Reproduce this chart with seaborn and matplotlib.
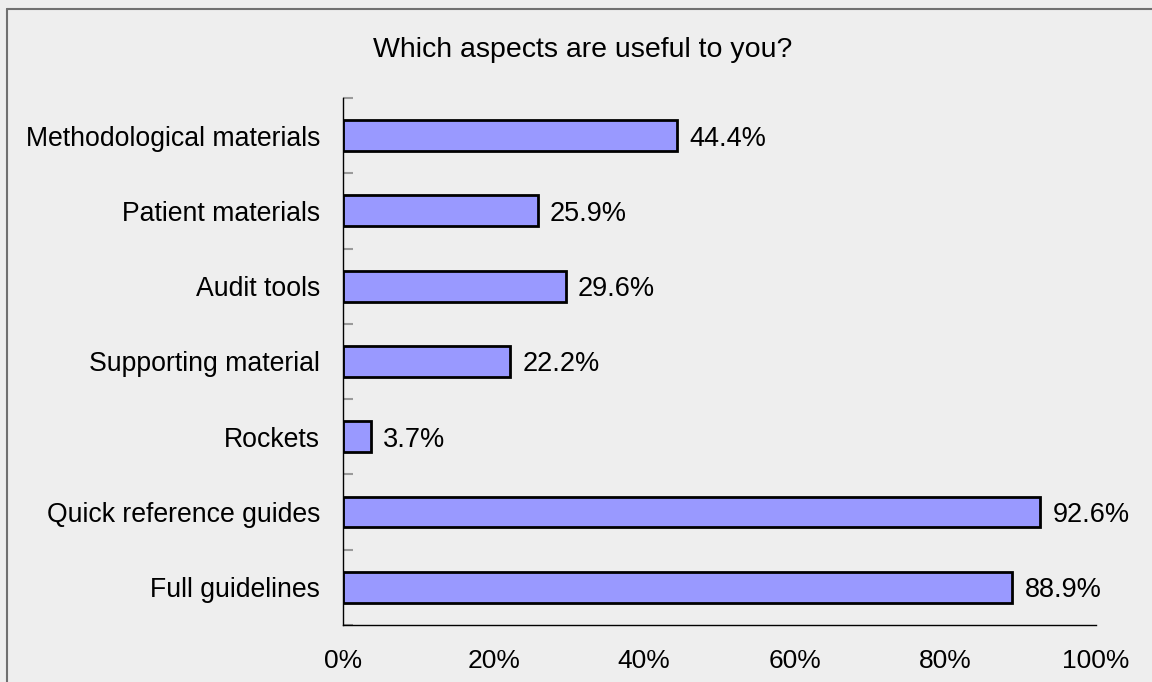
import matplotlib
matplotlib.use("Agg")
import matplotlib.pyplot as plt
import seaborn as sns
import pandas as pd
from matplotlib.ticker import FixedLocator
from matplotlib.lines import Line2D

categories = ["Methodological materials", "Patient materials", "Audit tools",
              "Supporting material", "Rockets", "Quick reference guides",
              "Full guidelines"]
shares = [44.4, 25.9, 29.6, 22.2, 3.7, 92.6, 88.9]
x_ticks = [0, 20, 40, 60, 80, 100]
x_tick_labels = ["0%", "20%", "40%", "60%", "80%", "100%"]
title = "Which aspects are useful to you?"

df = pd.DataFrame({"category": categories, "share": shares})

sns.set_style("white")
plt.rcParams["font.family"] = ["Liberation Sans", "DejaVu Sans"]
plt.rcParams["text.color"] = "black"
plt.rcParams["xtick.color"] = "black"
plt.rcParams["ytick.color"] = "black"
plt.rcParams["xtick.labelcolor"] = "black"
plt.rcParams["ytick.labelcolor"] = "black"

bg = "#EEEEEE"
fig = plt.figure(figsize=(11.52, 6.82), dpi=100, facecolor=bg)
ax = fig.add_axes([0.2977, 0.0836, 0.6537, 0.7727])
ax.set_facecolor(bg)

sns.barplot(data=df, x="share", y="category", orient="h", color="#9999FF",
            saturation=1, edgecolor="black", linewidth=2.0, width=0.41, ax=ax)

ax.set_xlim(0, 100)
ax.set_ylim(len(categories) - 0.5, -0.5)
ax.set_xlabel("")
ax.set_ylabel("")

for spine in ["top", "right"]:
    ax.spines[spine].set_visible(False)
for spine in ["left", "bottom"]:
    ax.spines[spine].set_color("black")
    ax.spines[spine].set_linewidth(1.0)

ax.set_xticks(x_ticks)
ax.set_xticklabels(x_tick_labels, fontsize=19, color="black")
ax.tick_params(axis="x", length=0, pad=17)
ax.tick_params(axis="y", which="major", length=0, pad=16.5, labelsize=19.2,
               labelcolor="black")
ax.yaxis.set_minor_locator(FixedLocator([i - 0.5 for i in range(len(categories) + 1)]))
ax.tick_params(axis="y", which="minor", direction="in", length=7,
               width=1.5, color="#9A9A9A", left=True)

for i, v in enumerate(shares):
    ax.text(v + 1.6, i, f"{v:.1f}%", va="center_baseline", ha="left",
            fontsize=19.5, color="black")

fig.text(0.506, 0.927, title, ha="center", va="center", fontsize=20.5,
         color="black")

# frame along the top and left edges of the figure
fig.add_artist(Line2D([0.0061, 1.0], [0.9868, 0.9868], transform=fig.transFigure,
                      color="#707070", linewidth=1.5))
fig.add_artist(Line2D([0.0061, 0.0061], [0.0, 0.9868], transform=fig.transFigure,
                      color="#707070", linewidth=1.5))

fig.savefig("out.png", dpi=100, facecolor=bg)
